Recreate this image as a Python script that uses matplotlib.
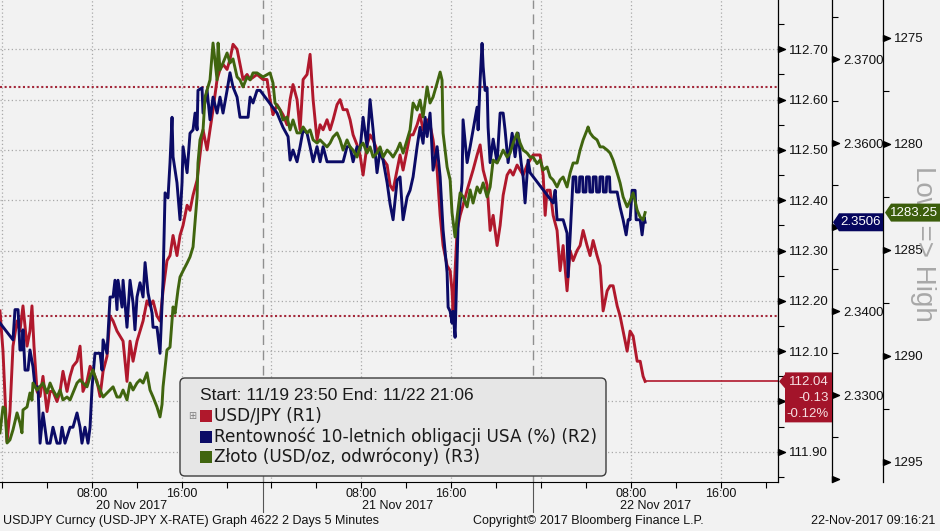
import matplotlib
matplotlib.use("Agg")
import matplotlib.pyplot as plt
import matplotlib.dates as mdates
import matplotlib.transforms as mtransforms
from matplotlib.patches import FancyBboxPatch, Polygon, Rectangle
from matplotlib.path import Path
from matplotlib.ticker import MultipleLocator, FuncFormatter
from matplotlib import font_manager
import numpy as np
import pandas as pd

# ---- data (hours since 20 Nov 2017 00:00, value) ----
usdjpy = [
    (-0.17, 112.18), (0.10, 112.10), (0.28, 112.01), (0.46, 111.92), (0.72, 111.98),
    (0.99, 112.11), (1.35, 112.16), (1.61, 112.14), (1.88, 112.19), (2.24, 112.11),
    (2.50, 112.14), (2.68, 112.19), (2.86, 112.11), (3.13, 112.02), (3.40, 112.01),
    (3.66, 112.05), (4.02, 111.98), (4.29, 112.02), (4.55, 112.02), (4.91, 112.00),
    (5.18, 112.02), (5.44, 112.06), (5.80, 112.02), (6.07, 112.05), (6.33, 112.07),
    (6.69, 112.08), (6.96, 112.11), (7.22, 112.02), (7.58, 112.04), (7.85, 112.07),
    (8.11, 112.06), (8.47, 112.04), (8.74, 112.01), (9.01, 112.06), (9.36, 112.09),
    (9.63, 112.17), (9.90, 112.16), (10.25, 112.14), (10.52, 112.13), (10.79, 112.12),
    (11.14, 112.04), (11.41, 112.12), (11.68, 112.08), (12.03, 112.12), (12.57, 112.16),
    (12.92, 112.20), (13.19, 112.19), (13.46, 112.20), (13.81, 112.17), (14.08, 112.16),
    (14.35, 112.22), (14.70, 112.28), (14.97, 112.29), (15.24, 112.33), (15.59, 112.29),
    (15.86, 112.33), (16.13, 112.35), (16.49, 112.39), (16.75, 112.38), (17.02, 112.41),
    (17.38, 112.44), (17.64, 112.49), (17.91, 112.54), (18.27, 112.50), (18.53, 112.54),
    (18.80, 112.58), (19.16, 112.64), (19.42, 112.66), (19.69, 112.67), (20.05, 112.66),
    (20.31, 112.68), (20.58, 112.71), (20.94, 112.70), (21.20, 112.67), (21.47, 112.64),
    (21.83, 112.65), (22.10, 112.64), (22.72, 112.65), (23.25, 112.64), (23.61, 112.64),
    (23.88, 112.60), (24.14, 112.57), (24.50, 112.59), (24.77, 112.58), (25.03, 112.57),
    (25.39, 112.55), (25.66, 112.60), (25.92, 112.63), (26.28, 112.60), (26.55, 112.54),
    (26.82, 112.64), (27.17, 112.65), (27.44, 112.69), (27.71, 112.60), (28.06, 112.52),
    (28.33, 112.55), (28.60, 112.54), (28.95, 112.56), (29.22, 112.54), (29.49, 112.56),
    (29.84, 112.59), (30.11, 112.60), (30.38, 112.58), (30.73, 112.58), (31.00, 112.56),
    (31.27, 112.53), (31.62, 112.51), (31.89, 112.49), (32.16, 112.45), (32.51, 112.51),
    (32.78, 112.53), (33.05, 112.52), (33.40, 112.50), (33.67, 112.49), (34.30, 112.47),
    (34.56, 112.43), (34.83, 112.42), (35.19, 112.46), (35.45, 112.49), (35.72, 112.46),
    (36.08, 112.50), (36.34, 112.53), (36.61, 112.53), (36.97, 112.55), (37.23, 112.57),
    (37.50, 112.54), (37.86, 112.56), (38.12, 112.55), (38.39, 112.52), (38.75, 112.46),
    (39.02, 112.37), (39.28, 112.31), (39.64, 112.27), (39.91, 112.26), (40.08, 112.22),
    (40.17, 112.18), (40.53, 112.34), (40.80, 112.37), (41.06, 112.39), (41.42, 112.42),
    (41.69, 112.44), (41.95, 112.46), (42.31, 112.49), (42.58, 112.51), (42.85, 112.46),
    (43.20, 112.43), (43.47, 112.34), (43.74, 112.37), (44.09, 112.31), (44.36, 112.35),
    (44.63, 112.41), (44.98, 112.45), (45.25, 112.46), (45.52, 112.45), (45.87, 112.47),
    (46.14, 112.46), (46.41, 112.45), (46.76, 112.47), (47.30, 112.49), (47.92, 112.49),
    (48.19, 112.45), (48.37, 112.37), (48.54, 112.42), (48.81, 112.42), (49.08, 112.37),
    (49.43, 112.34), (49.70, 112.26), (49.97, 112.31), (50.32, 112.22), (50.59, 112.30),
    (50.86, 112.28), (51.21, 112.30), (51.48, 112.31), (51.75, 112.34), (52.10, 112.31),
    (52.37, 112.29), (52.64, 112.32), (52.99, 112.29), (53.26, 112.27), (53.53, 112.18),
    (53.89, 112.22), (54.15, 112.23), (54.42, 112.23), (54.78, 112.19), (55.04, 112.17),
    (55.31, 112.14), (55.67, 112.10), (55.93, 112.14), (56.20, 112.13), (56.56, 112.08),
    (56.83, 112.08), (57.09, 112.05), (57.27, 112.04),
]

us10y = [
    (-0.17, 2.3386), (0.99, 2.3366), (1.17, 2.3402), (1.44, 2.3402), (1.61, 2.3354),
    (1.79, 2.3354), (1.88, 2.3378), (2.06, 2.3330), (2.33, 2.3330), (2.50, 2.3354),
    (2.77, 2.3334), (2.95, 2.3310), (3.22, 2.3310), (3.40, 2.3243), (3.66, 2.3279),
    (4.02, 2.3243), (4.29, 2.3243), (4.55, 2.3262), (4.91, 2.3243), (5.18, 2.3243),
    (5.35, 2.3262), (5.62, 2.3243), (6.07, 2.3262), (6.33, 2.3262), (6.69, 2.3279),
    (6.96, 2.3262), (7.13, 2.3243), (7.40, 2.3262), (7.67, 2.3243), (7.85, 2.3262),
    (8.03, 2.3310), (8.29, 2.3350), (8.74, 2.3350), (8.92, 2.3330), (9.01, 2.3366),
    (9.36, 2.3350), (9.63, 2.3417), (9.90, 2.3417), (10.07, 2.3437), (10.25, 2.3402),
    (10.34, 2.3437), (10.70, 2.3405), (10.79, 2.3437), (11.14, 2.3381), (11.41, 2.3437),
    (11.68, 2.3410), (11.85, 2.3378), (12.03, 2.3417), (12.30, 2.3434), (12.57, 2.3417),
    (12.75, 2.3458), (13.01, 2.3422), (13.37, 2.3398), (13.46, 2.3381), (13.81, 2.3381),
    (14.08, 2.3350), (14.35, 2.3437), (14.53, 2.3541), (14.79, 2.3535), (14.97, 2.3577),
    (15.15, 2.3631), (15.24, 2.3584), (15.59, 2.3553), (15.86, 2.3509), (16.04, 2.3553),
    (16.13, 2.3596), (16.49, 2.3565), (16.75, 2.3612), (17.02, 2.3616), (17.20, 2.3636),
    (17.38, 2.3616), (17.46, 2.3663), (17.82, 2.3666), (17.91, 2.3636), (18.27, 2.3663),
    (18.53, 2.3628), (18.80, 2.3655), (19.16, 2.3636), (19.42, 2.3655), (19.69, 2.3636),
    (20.05, 2.3663), (20.31, 2.3684), (20.58, 2.3667), (20.94, 2.3655), (21.20, 2.3631),
    (21.92, 2.3631), (22.10, 2.3655), (22.36, 2.3648), (22.72, 2.3663), (22.99, 2.3663),
    (24.50, 2.3636), (25.03, 2.3619), (25.48, 2.3608), (25.66, 2.3580), (25.92, 2.3592),
    (26.28, 2.3578), (26.55, 2.3596), (26.82, 2.3616), (27.17, 2.3612), (27.44, 2.3596),
    (27.71, 2.3578), (28.06, 2.3596), (28.33, 2.3578), (28.60, 2.3596), (28.95, 2.3578),
    (30.38, 2.3578), (30.73, 2.3596), (31.00, 2.3596), (31.27, 2.3578), (31.62, 2.3596),
    (31.89, 2.3592), (32.16, 2.3631), (32.51, 2.3596), (32.78, 2.3652), (33.05, 2.3616),
    (33.40, 2.3565), (33.67, 2.3592), (33.94, 2.3580), (34.30, 2.3553), (34.56, 2.3528),
    (34.83, 2.3509), (35.19, 2.3556), (35.45, 2.3560), (35.72, 2.3509), (36.08, 2.3536),
    (36.34, 2.3544), (36.61, 2.3560), (36.97, 2.3596), (37.23, 2.3619), (37.50, 2.3600),
    (37.68, 2.3631), (37.86, 2.3608), (38.12, 2.3636), (38.21, 2.3616), (38.39, 2.3568),
    (38.75, 2.3596), (39.02, 2.3560), (39.28, 2.3497), (39.64, 2.3446), (39.73, 2.3405),
    (39.91, 2.3400), (40.08, 2.3386), (40.17, 2.3400), (40.35, 2.3369), (40.53, 2.3458),
    (40.62, 2.3505), (40.80, 2.3529), (40.97, 2.3553), (41.06, 2.3628), (41.42, 2.3577),
    (41.69, 2.3596), (41.95, 2.3616), (42.31, 2.3643), (42.40, 2.3616), (42.58, 2.3675),
    (42.75, 2.3719), (42.85, 2.3691), (43.02, 2.3663), (43.20, 2.3666), (43.29, 2.3619),
    (43.47, 2.3577), (43.74, 2.3605), (44.09, 2.3577), (44.36, 2.3636), (44.63, 2.3636),
    (44.80, 2.3616), (45.07, 2.3577), (45.43, 2.3612), (45.69, 2.3584), (45.96, 2.3612),
    (46.23, 2.3577), (46.41, 2.3560), (46.58, 2.3529), (46.85, 2.3580), (47.03, 2.3565),
    (49.08, 2.3529), (49.26, 2.3544), (49.43, 2.3509), (49.97, 2.3509), (50.32, 2.3493),
    (50.41, 2.3441), (50.59, 2.3488), (50.86, 2.3560), (51.10, 2.3560), (51.15, 2.3542),
    (51.40, 2.3542), (51.45, 2.3560), (51.70, 2.3560), (51.75, 2.3542), (52.00, 2.3542),
    (52.05, 2.3560), (52.30, 2.3560), (52.35, 2.3542), (52.60, 2.3542), (52.65, 2.3560),
    (52.90, 2.3560), (52.95, 2.3542), (53.20, 2.3542), (53.25, 2.3560), (53.50, 2.3560),
    (53.55, 2.3542), (53.80, 2.3542), (53.85, 2.3560), (54.10, 2.3560), (54.15, 2.3542),
    (54.78, 2.3542), (55.04, 2.3524), (55.31, 2.3509), (55.58, 2.3491), (55.76, 2.3509),
    (55.93, 2.3509), (56.11, 2.3544), (56.38, 2.3544), (56.47, 2.3509), (56.83, 2.3509),
    (57.00, 2.3491), (57.18, 2.3512), (57.27, 2.3506),
]

gold = [
    (-0.17, 1293.64), (0.10, 1292.42), (0.28, 1292.50), (0.46, 1294.12), (0.72, 1293.97),
    (0.99, 1293.50), (1.35, 1292.70), (1.61, 1293.17), (1.79, 1293.64), (1.88, 1292.56),
    (2.24, 1292.42), (2.50, 1291.76), (2.68, 1292.10), (2.77, 1291.29), (3.13, 1291.62),
    (3.40, 1291.45), (3.66, 1291.29), (4.02, 1291.76), (4.29, 1291.29), (4.55, 1291.62),
    (4.91, 1291.95), (5.18, 1291.62), (5.44, 1292.09), (5.80, 1291.95), (6.07, 1292.09),
    (6.33, 1291.76), (6.69, 1291.29), (6.96, 1291.14), (7.22, 1291.29), (7.58, 1291.47),
    (7.85, 1291.00), (8.11, 1290.67), (8.47, 1291.29), (8.74, 1291.62), (9.01, 1291.95),
    (9.36, 1291.76), (9.63, 1291.62), (9.90, 1291.47), (10.25, 1291.95), (10.52, 1291.95),
    (10.79, 1291.62), (11.14, 1292.09), (11.41, 1291.29), (11.68, 1291.62), (12.03, 1291.29),
    (12.30, 1291.14), (12.57, 1291.29), (12.92, 1290.81), (13.19, 1291.62), (13.46, 1291.95),
    (13.81, 1292.42), (14.08, 1292.89), (14.26, 1292.30), (14.35, 1291.47), (14.70, 1289.73),
    (14.97, 1289.60), (15.24, 1287.70), (15.42, 1288.00), (15.68, 1286.90), (15.86, 1286.29),
    (16.13, 1286.00), (16.49, 1285.63), (16.75, 1285.34), (17.02, 1284.87), (17.38, 1282.51),
    (17.46, 1280.91), (17.64, 1279.82), (17.91, 1279.35), (18.09, 1277.80), (18.27, 1277.47),
    (18.53, 1276.99), (18.80, 1275.25), (19.16, 1276.99), (19.25, 1275.25), (19.42, 1276.52),
    (19.69, 1276.19), (20.05, 1275.72), (20.31, 1276.19), (20.58, 1276.00), (20.94, 1276.85),
    (21.20, 1276.99), (21.47, 1277.32), (21.83, 1276.85), (22.10, 1276.99), (22.36, 1276.66),
    (22.72, 1276.66), (23.25, 1276.85), (23.88, 1276.66), (24.14, 1277.14), (24.32, 1278.08),
    (24.77, 1278.41), (25.03, 1278.88), (25.39, 1278.74), (25.66, 1279.35), (25.92, 1278.88),
    (26.28, 1279.49), (26.55, 1279.49), (26.82, 1279.21), (27.17, 1279.49), (27.44, 1279.35),
    (27.71, 1279.82), (28.06, 1279.97), (28.33, 1279.82), (28.60, 1279.97), (28.95, 1280.15),
    (29.22, 1279.97), (29.49, 1279.68), (29.84, 1279.49), (30.11, 1279.82), (30.38, 1280.30),
    (30.73, 1279.82), (31.00, 1280.15), (31.27, 1280.30), (31.62, 1280.63), (31.89, 1280.15),
    (32.16, 1279.97), (32.51, 1280.44), (32.78, 1280.15), (33.05, 1280.63), (33.40, 1280.44),
    (33.67, 1280.15), (33.94, 1280.63), (34.30, 1280.30), (34.56, 1280.44), (34.83, 1280.63),
    (35.19, 1280.30), (35.45, 1279.97), (35.72, 1280.44), (36.08, 1279.82), (36.34, 1279.35),
    (36.61, 1278.08), (36.97, 1278.41), (37.23, 1277.94), (37.50, 1278.74), (37.86, 1277.32),
    (38.12, 1278.08), (38.39, 1277.80), (38.75, 1277.14), (39.02, 1276.62), (39.19, 1277.00),
    (39.28, 1279.49), (39.64, 1281.10), (39.91, 1281.71), (40.08, 1283.27), (40.35, 1284.40),
    (40.53, 1283.46), (40.80, 1282.32), (41.06, 1282.50), (41.42, 1282.98), (41.69, 1282.18),
    (41.95, 1282.80), (42.31, 1282.04), (42.58, 1282.32), (42.85, 1281.85), (43.20, 1282.51),
    (43.47, 1282.04), (43.74, 1280.77), (44.09, 1280.91), (44.36, 1280.63), (44.63, 1280.30),
    (44.98, 1280.63), (45.25, 1280.44), (45.52, 1279.97), (45.87, 1279.49), (46.14, 1279.97),
    (46.41, 1280.30), (46.76, 1280.44), (47.03, 1280.63), (47.30, 1280.63), (47.65, 1280.94),
    (47.92, 1280.77), (48.19, 1281.24), (48.54, 1281.10), (48.81, 1281.57), (49.08, 1281.71),
    (49.43, 1282.04), (49.70, 1281.71), (49.97, 1281.57), (50.32, 1282.04), (50.59, 1281.38),
    (50.86, 1280.91), (51.21, 1280.91), (51.48, 1280.30), (51.75, 1279.82), (52.10, 1279.35),
    (52.19, 1279.21), (52.37, 1279.49), (52.64, 1279.68), (52.99, 1279.82), (53.26, 1280.15),
    (53.53, 1280.15), (53.89, 1280.30), (54.15, 1280.44), (54.42, 1280.77), (54.78, 1281.38),
    (55.04, 1281.85), (55.31, 1282.51), (55.67, 1282.98), (55.93, 1282.70), (56.20, 1282.32),
    (56.56, 1283.13), (56.83, 1283.46), (57.09, 1283.60), (57.27, 1283.25),
]

prev_close = 112.17            # USD/JPY previous close (lower dotted line)
upper_ref = 112.625            # upper dotted reference line
start_time = "2017-11-19 23:50"
end_time = "2017-11-22 21:06"
day_breaks = ["2017-11-20 23:15", "2017-11-21 23:15"]
day_labels = ["20 Nov 2017", "21 Nov 2017", "22 Nov 2017"]
series_labels = ["USD/JPY (R1)",
                 "Rentowność 10-letnich obligacji USA (%) (R2)",
                 "Złoto (USD/oz, odwrócony) (R3)"]
header = "Start: 11/19 23:50 End: 11/22 21:06"
footer_left = "USDJPY Curncy (USD-JPY X-RATE) Graph 4622 2 Days 5 Minutes"
footer_mid = "Copyright\u00a9 2017 Bloomberg Finance L.P."
footer_right = "22-Nov-2017 09:16:21"

# ---- styling ----
W_PX, H_PX = 940, 531
BG = "#f2f2f2"
RED = "#b0182c"
NAVY = "#0b0b66"
GREEN = "#40650f"
GRID = "#a9a9a9"

names = {f.name for f in font_manager.fontManager.ttflist}
NARROW = "Liberation Sans Narrow" if "Liberation Sans Narrow" in names else "Liberation Sans"
plt.rcParams["font.family"] = ["Liberation Sans", "DejaVu Sans"]


def to_num(pairs):
    h = np.array([p[0] for p in pairs])
    v = np.array([p[1] for p in pairs])
    t = pd.Timestamp("2017-11-20") + pd.to_timedelta(h, unit="h")
    return mdates.date2num(t.to_pydatetime()), v


red_t, red_v = to_num(usdjpy)
blue_t, blue_v = to_num(us10y)
gold_t, gold_v = to_num(gold)
x0 = mdates.date2num(pd.Timestamp(start_time).to_pydatetime())
x1 = mdates.date2num(pd.Timestamp(end_time).to_pydatetime())

fig = plt.figure(figsize=(W_PX / 100, H_PX / 100), dpi=100, facecolor=BG)
AX_BOTTOM = 482  # image pixel row of plot bottom
ax = fig.add_axes([0, (H_PX - AX_BOTTOM) / H_PX, 778 / W_PX, AX_BOTTOM / H_PX])
ax.set_facecolor(BG)
ax2 = ax.twinx()
ax3 = ax.twinx()

# image-pixel transform (y measured from top)
PX = mtransforms.Affine2D().scale(1, -1).translate(0, H_PX)

for a in (ax, ax2, ax3):
    a.spines["left"].set_visible(False)
    a.spines["top"].set_visible(False)
    a.spines["right"].set_linewidth(0.9)
for a in (ax2, ax3):
    a.spines["bottom"].set_visible(False)
ax2.spines["right"].set_position(("axes", 1 + 54 / 778))
ax3.spines["right"].set_position(("axes", 1 + 105 / 778))

R1_LIM = (111.840, 112.798)
R2_LIM = (2.31968, 2.37706)
R3_LIM = (1295.96, 1273.22)
ax.set_xlim(x0, x1)
ax.set_ylim(*R1_LIM)
ax2.set_ylim(*R2_LIM)
ax3.set_ylim(*R3_LIM)

# grid and reference lines
ax.yaxis.set_major_locator(MultipleLocator(0.1))
ax.grid(axis="y", which="major", linestyle=(0, (1, 2)), color=GRID, linewidth=0.9)
for t in pd.date_range("2017-11-20 00:00", "2017-11-22 16:00", freq="8h"):
    ax.axvline(mdates.date2num(t.to_pydatetime()), linestyle=(0, (1, 2)), color=GRID, linewidth=0.9)
for b in day_breaks:
    xb = mdates.date2num(pd.Timestamp(b).to_pydatetime())
    ax.axvline(xb, linestyle=(0, (7, 4)), color="#8f8f8f", linewidth=1.0)
    ax.plot([xb, xb], [AX_BOTTOM, 512], color="#555555", linewidth=0.8, clip_on=False,
            transform=mtransforms.blended_transform_factory(ax.transData, PX))
for lvl in (upper_ref, prev_close):
    ax.axhline(lvl, linestyle=(0, (1, 1.2)), color="#a3283a", linewidth=1.5)

# series
ax.plot(red_t, red_v, color=RED, linewidth=2.1, solid_joinstyle="round")
ax.plot([red_t[-1], x1], [red_v[-1], red_v[-1]], color=RED, linewidth=1.2)
ax2.plot(blue_t, blue_v, color=NAVY, linewidth=2.1, solid_joinstyle="round")
ax3.plot(gold_t, gold_v, color=GREEN, linewidth=2.1, solid_joinstyle="round")

# y axes ticks
TRI = Path([(0, -0.42), (1, 0), (0, 0.42), (0, -0.42)],
           [Path.MOVETO, Path.LINETO, Path.LINETO, Path.CLOSEPOLY])


def setup_axis(a, xfrac, lim, major, minor, fmt, hidden=()):
    a.yaxis.tick_right()
    a.yaxis.set_major_locator(MultipleLocator(major))
    a.yaxis.set_minor_locator(MultipleLocator(minor))

    def f(v, p):
        if any(np.isclose(v, h) for h in hidden):
            return ""
        return fmt % v
    a.yaxis.set_major_formatter(FuncFormatter(f))
    a.tick_params(axis="y", which="major", length=0, pad=8, labelsize=9.5, labelcolor="#111111")
    a.tick_params(axis="y", which="minor", length=4.5, width=0.8, direction="out")
    lo, hi = sorted(lim)
    locs = [v for v in a.yaxis.get_major_locator().tick_values(lo, hi) if lo <= v <= hi]
    tr = mtransforms.blended_transform_factory(ax.transAxes, a.transData)
    a.plot([xfrac] * len(locs), locs, linestyle="none", marker=TRI, markersize=10,
           color="black", transform=tr, clip_on=False)
    a.set_ylim(*lim)


# labels hidden behind the value flags, or cut at the bottom edge
setup_axis(ax, 1.0, R1_LIM, 0.1, 0.05, "%.2f", hidden=(112.0,))
setup_axis(ax2, 1 + 54 / 778, R2_LIM, 0.01, 0.005, "%.4f", hidden=(2.32, 2.35))
setup_axis(ax3, 1 + 105 / 778, R3_LIM, 5, 2.5, "%d")
ax.set_xlim(x0, x1)

# x axis
ax.xaxis.set_major_locator(mdates.HourLocator(byhour=range(0, 24, 4)))


def xfmt(v, p):
    d = mdates.num2date(v)
    return d.strftime("%H:%M") if d.hour in (8, 16) else ""


ax.xaxis.set_major_formatter(FuncFormatter(xfmt))
ax.tick_params(axis="x", length=4, width=0.8, pad=0, labelsize=9, labelcolor="#111111")
for lab in ax.get_xticklabels():
    lab.set_fontfamily(NARROW)

bounds = [x0] + [mdates.date2num(pd.Timestamp(b).to_pydatetime()) for b in day_breaks] + [x1]
date_tr = mtransforms.blended_transform_factory(ax.transData, PX)
for i, lab in enumerate(day_labels):
    fig.text((bounds[i] + bounds[i + 1]) / 2, 506, lab, transform=date_tr, ha="center",
             va="center", fontsize=9, family=NARROW, color="#111111")

# legend box
LEG_FONT = ["DejaVu Sans"]
fig.add_artist(FancyBboxPatch((180, 378), 426, 98, boxstyle="round,pad=0,rounding_size=5",
                              transform=PX, facecolor="#e6e6e6", edgecolor="#3c3c3c", linewidth=1.0))
fig.text(200, 396, header, transform=PX, va="center", fontsize=12.5, color="#1a1a1a")
for i, (lab, col) in enumerate(zip(series_labels, [RED, NAVY, GREEN])):
    yy = 416 + i * 20.5
    fig.add_artist(Rectangle((200, yy - 6), 12, 12, transform=PX, facecolor=col, edgecolor="none"))
    fig.text(214, yy, lab, transform=PX, va="center", fontsize=12.2, color="#1a1a1a",
             family=LEG_FONT)
fig.text(192, 416, "\u229e", transform=PX, va="center", ha="center", fontsize=7,
         color="#808080", family="DejaVu Sans")

fig.text(923, 244, "Low => High", transform=PX, rotation=270, ha="center", va="center",
         fontsize=20, color="#a8a8a8", zorder=0.5)


# value flags
def img_y(a, v):
    return H_PX - a.transData.transform((x0, v))[1]


yr = img_y(ax, red_v[-1])
fig.add_artist(Polygon([(779, yr), (785, yr - 7), (785, yr - 9), (832, yr - 9), (832, yr + 41),
                        (785, yr + 41), (785, yr + 7)], closed=True, transform=PX,
                       facecolor="#a3142a", edgecolor="none", zorder=2))
chg = red_v[-1] - prev_close
for j, s in enumerate([f"{red_v[-1]:.2f}", f"{chg:.2f}", f"{chg / prev_close * 100:.2f}%"]):
    fig.text(829, yr + 1 + j * 16, s, transform=PX, ha="right", va="center", fontsize=9.5,
             color="#f6dfe2", zorder=3)

yb = img_y(ax2, blue_v[-1])
fig.add_artist(Polygon([(833, yb), (839, yb - 9), (883, yb - 9), (883, yb + 9), (839, yb + 9)],
                       closed=True, transform=PX, facecolor="#06065e", edgecolor="none", zorder=2))
fig.text(861, yb, f"{blue_v[-1]:.4f}", transform=PX, ha="center", va="center", fontsize=9.5,
         color="white", zorder=3)

yg = img_y(ax3, gold_v[-1])
fig.add_artist(Polygon([(885, yg), (891, yg - 9), (940, yg - 9), (940, yg + 9), (891, yg + 9)],
                       closed=True, transform=PX, facecolor="#3c5e0c", edgecolor="none", zorder=2))
fig.text(914, yg, f"{gold_v[-1]:.2f}", transform=PX, ha="center", va="center", fontsize=9.5,
         color="white", zorder=3)

# footer
fig.text(3, 521, footer_left, transform=PX, va="center", fontsize=9, family=NARROW, color="#111111")
fig.text(473, 521, footer_mid, transform=PX, va="center", fontsize=9, family=NARROW, color="#111111")
fig.text(935, 521, footer_right, transform=PX, va="center", ha="right", fontsize=9, family=NARROW,
         color="#111111")

fig.savefig("out.png", dpi=100, facecolor=BG)
